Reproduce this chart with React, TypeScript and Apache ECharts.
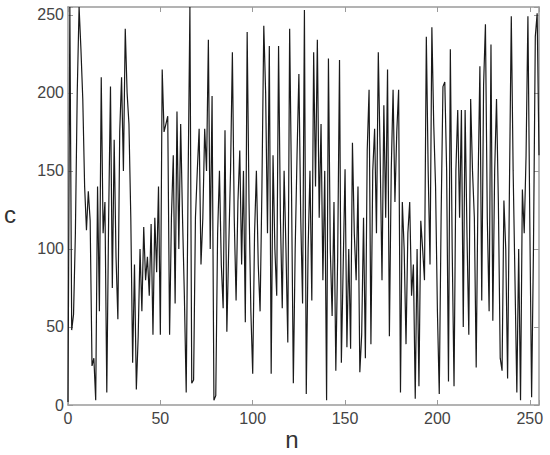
import { useEffect, useRef } from "react";
import * as echarts from "echarts";

// c[n] values, n = 0..255
const cValues: number[] = [
  2, 255, 48, 58, 110, 200, 255, 228, 196, 140,
  112, 137, 118, 25, 30, 3, 140, 60, 210, 110,
  130, 8, 120, 204, 75, 170, 95, 55, 175, 210,
  150, 241, 200, 180, 120, 27, 90, 10, 44, 100,
  60, 114, 80, 95, 70, 116, 45, 120, 85, 140,
  45, 215, 175, 180, 185, 45, 120, 160, 65, 188,
  100, 180, 120, 70, 8, 140, 255, 14, 16, 120,
  150, 177, 90, 120, 177, 150, 234, 100, 198, 3,
  6, 110, 150, 90, 62, 176, 47, 100, 150, 226,
  120, 67, 130, 163, 90, 150, 53, 239, 130, 60,
  20, 110, 150, 90, 60, 140, 243, 200, 110, 230,
  20, 160, 100, 70, 230, 120, 62, 150, 100, 40,
  241, 140, 14, 100, 160, 212, 120, 65, 253, 7,
  100, 150, 67, 226, 140, 234, 120, 180, 80, 150,
  3, 222, 100, 57, 130, 22, 95, 221, 27, 90,
  151, 37, 100, 36, 168, 110, 80, 140, 21, 45,
  120, 30, 163, 202, 39, 150, 177, 110, 226, 160,
  80, 192, 120, 215, 44, 150, 202, 130, 175, 202,
  8, 130, 100, 39, 110, 130, 70, 90, 4, 100,
  12, 118, 100, 80, 236, 150, 90, 242, 180, 140,
  60, 7, 120, 204, 207, 150, 15, 228, 100, 12,
  150, 189, 120, 189, 50, 189, 110, 45, 196, 150,
  120, 24, 140, 217, 67, 205, 244, 120, 60, 231,
  54, 150, 196, 130, 30, 22, 131, 100, 17, 140,
  249, 150, 80, 8, 100, 3, 138, 110, 160, 249,
  120, 5, 100, 236, 251, 160,
];

const tickValues: number[] = [0, 50, 100, 150, 200, 250];
const xName = "n";
const yName = "c";

export default function App() {
  const ref = useRef<HTMLDivElement | null>(null);

  useEffect(() => {
    document.body.style.margin = "0";
    if (!ref.current) return;
    const chart = echarts.init(ref.current, undefined, { renderer: "svg" });
    const data = cValues.map((c, i) => [i, c]);
    const fmt = (v: number) => (tickValues.includes(v) ? String(v) : "");
    const axisColor = "#9a9a9a";
    const labelStyle = {
      fontSize: 16,
      color: "#444",
      fontFamily: "Liberation Sans, Arial, sans-serif",
      formatter: fmt,
    };
    const common = {
      type: "value" as const,
      min: 0,
      max: 255,
      interval: 50,
      splitLine: { show: false },
      axisLine: { show: true, onZero: false, lineStyle: { color: axisColor, width: 1.5 } },
      axisTick: { show: true, inside: true, length: 5, lineStyle: { color: axisColor, width: 1 } },
    };
    chart.setOption({
      animation: false,
      grid: { left: 68, top: 7, right: 11, bottom: 50 },
      xAxis: [
        { ...common, position: "bottom", axisLabel: { ...labelStyle, margin: 5 } },
        { ...common, position: "top", axisLabel: { show: false } },
      ],
      yAxis: [
        { ...common, position: "left", axisLabel: { ...labelStyle, margin: 4 } },
        { ...common, position: "right", axisLabel: { show: false } },
      ],
      graphic: [
        {
          type: "text",
          x: 292,
          y: 439,
          style: {
            text: xName,
            font: "24px Liberation Sans, Arial, sans-serif",
            fill: "#333",
            align: "center",
            verticalAlign: "middle",
          },
        },
        {
          type: "text",
          x: 10,
          y: 214,
          style: {
            text: yName,
            font: "24px Liberation Sans, Arial, sans-serif",
            fill: "#333",
            align: "center",
            verticalAlign: "middle",
          },
        },
      ],
      series: [
        {
          type: "line",
          xAxisIndex: 0,
          yAxisIndex: 0,
          data,
          symbol: "none",
          showSymbol: false,
          lineStyle: { color: "#1a1a1a", width: 1.2 },
        },
      ],
    });
    return () => chart.dispose();
  }, []);

  return <div ref={ref} style={{ width: 550, height: 455 }} />;
}
